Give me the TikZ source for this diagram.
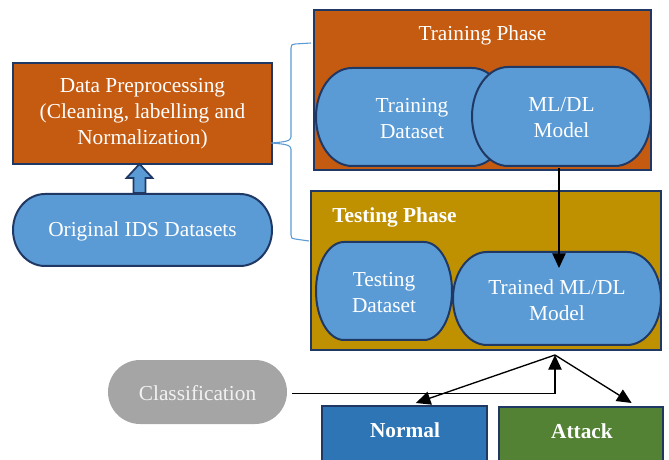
\documentclass[tikz,border=0pt]{standalone}
\usepackage{fontspec}
\setmainfont{Liberation Serif}
\usetikzlibrary{arrows.meta}

\definecolor{orangeF}{HTML}{C55A11}
\definecolor{blueF}{HTML}{5B9BD5}
\definecolor{edgeC}{HTML}{1F3864}
\definecolor{goldF}{HTML}{BF9000}
\definecolor{normalF}{HTML}{2E75B6}
\definecolor{attackF}{HTML}{548235}
\definecolor{grayF}{HTML}{A5A5A5}
\definecolor{grayT}{HTML}{F2F2F2}

% Capsule with elliptical ends: #1 path style, #2 node name,
% #3..#6 = x1 y1 x2 y2, #7 = horizontal radius of the ends, #8 = text
\newcommand\capsule[8]{%
  \pgfmathsetmacro\cpxa{#3+#7}%
  \pgfmathsetmacro\cpxb{#5-#7}%
  \pgfmathsetmacro\cpym{(#4+#6)/2}%
  \pgfmathsetmacro\cpkx{0.5523*#7}%
  \pgfmathsetmacro\cpky{0.5523*(#6-#4)/2}%
  \pgfmathsetmacro\cpw{(#5-#3)*0.75}%
  \pgfmathsetmacro\cph{(#6-#4)*0.75}%
  \path[#1] (\cpxa,#4) -- (\cpxb,#4)
    .. controls ({\cpxb+\cpkx},#4) and (#5,{\cpym-\cpky}) .. (#5,\cpym)
    .. controls (#5,{\cpym+\cpky}) and ({\cpxb+\cpkx},#6) .. (\cpxb,#6)
    -- (\cpxa,#6)
    .. controls ({\cpxa-\cpkx},#6) and (#3,{\cpym+\cpky}) .. (#3,\cpym)
    .. controls (#3,{\cpym-\cpky}) and ({\cpxa-\cpkx},#4) .. (\cpxa,#4) -- cycle;
  \node[txt, minimum width=\cpw pt, minimum height=\cph pt] (#2) at ({(#3+#5)/2},{\cpym+1.5}) {#8};
}

\tikzset{
  txt/.style={text=white, align=center, inner sep=0pt,
    font=\fontsize{16}{19.5}\selectfont},
  boldtxt/.style={txt, font=\fontsize{16}{19.5}\selectfont\bfseries},
  panel/.style={draw=edgeC, line width=1.5pt, inner sep=0pt},
  capfill/.style={fill=blueF, draw=edgeC, line width=1.5pt},
  arr/.style={draw=black, line width=1pt, -{Triangle[length=11pt,width=10pt]}},
  bracket/.style={draw=blueF, line width=0.8pt},
}

\begin{document}
\begin{tikzpicture}[x=0.75pt, y=-0.75pt]
\useasboundingbox (0,0) rectangle (669,460);
\clip (0,0) rectangle (669,460);

% training phase
\node[panel, fill=orangeF, minimum width=252.75pt, minimum height=120pt] (train) at (482.5,90) {};
\node[txt, anchor=base] (traintitle) at (482.5,41) {Training Phase};
\capsule{capfill}{trainds}{316}{68}{508}{166}{36}{Training\\Dataset}
\capsule{capfill}{mlmodel}{472}{67}{651}{166}{36}{ML/DL\\Model}

% testing phase
\node[panel, fill=goldF, minimum width=262.5pt, minimum height=119.25pt] (test) at (486,270.5) {};
\node[boldtxt, anchor=base west] (testtitle) at (332,223) {Testing Phase};
\capsule{capfill}{testds}{316}{242}{452}{340}{28}{Testing\\Dataset}
\capsule{capfill}{trained}{453}{252}{661}{345}{34}{Trained ML/DL\\Model}

% preprocessing and source data
\node[panel, txt, fill=orangeF, minimum width=194.25pt, minimum height=75.75pt] (prep) at (142.5,113.5)
  {Data Preprocessing\\(Cleaning, labelling and\\Normalization)};
\capsule{capfill}{orig}{13}{194}{272}{266}{32}{Original IDS Datasets}

% block arrow from the datasets up to preprocessing
\draw[fill=blueF, draw=edgeC, line width=1.3pt, line join=miter]
  ([xshift=-2.25pt,yshift=0.75pt]prep.south) -- ++(13,14) -- ++(-7,0) -- ++(0,15) -- ++(-12,0)
  -- ++(0,-15) -- ++(-7,0) -- cycle;

% bracket grouping the two phases
\draw[bracket] (311,43) -- (295,44) .. controls (292,44) and (291,45) .. (291,48)
  -- (291,137) .. controls (291,141) and (285,142) .. (271,143)
  .. controls (285,144) and (291,145) .. (291,149)
  -- (291,235) .. controls (291,238) and (292,239) .. (295,239) -- (309,241);

% classification and outcomes
\capsule{fill=grayF}{classif}{108}{360}{287}{424}{32}{\textcolor{grayT}{Classification}}
\node[panel, fill=normalF, minimum width=123.75pt, minimum height=52.5pt, anchor=north] (normal) at (404.5,405) {};
\node[boldtxt, anchor=base] (normaltxt) at (405,437) {Normal};
\node[panel, fill=attackF, minimum width=123pt, minimum height=52.5pt, anchor=north] (attack) at (581,406) {};
\node[boldtxt, anchor=base] (attacktxt) at (582,438) {Attack};

% connectors
\coordinate (mltip) at (559,268);
\coordinate (hub) at (555,355);
\draw[arr] (mltip |- mlmodel.south) -- (mltip);
\draw[arr] ([xshift=3.5pt]classif.east) -| (hub);
\draw[arr] (hub) -- ([xshift=8.5pt,yshift=1.5pt]normal.north);
\draw[arr] (hub) -- ([xshift=38pt,yshift=2.25pt]attack.north);
\end{tikzpicture}
\end{document}
